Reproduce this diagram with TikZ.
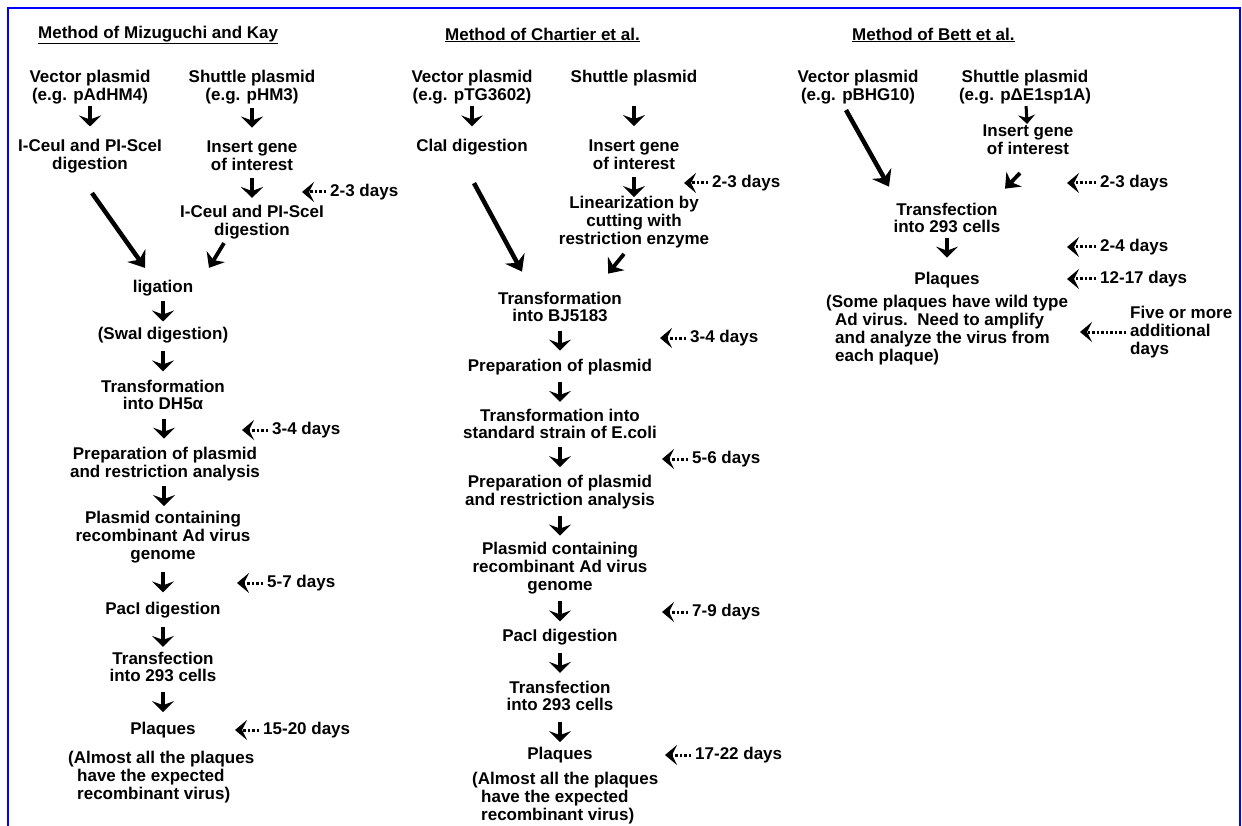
\documentclass[tikz,border=0pt]{standalone}
\usepackage{fontspec}
\setmainfont{Liberation Sans}
\usetikzlibrary{arrows.meta,calc,positioning}

\begin{document}
\begin{tikzpicture}[x=1pt,y=-1pt,
	txt/.style={align=center,inner sep=0pt,font=\bfseries\fontsize{17}{17.8}\selectfont},
	down/.style={-{Stealth[length=11pt,width=22pt,inset=4pt]},line width=3.5pt,
		to path={($(\tikztostart.south)!0.5!(\tikztotarget.north)+(0,#1-10)$) -- ++(0,20)}},
	down/.default=0,
	small/.style={-{Stealth[length=9pt,width=17pt,inset=3pt]},line width=3pt,shorten <=2pt,shorten >=1pt},
	slant/.style={-{Stealth[length=15pt,width=22pt,inset=5pt]},line width=4.5pt},
	nudge/.style={-{Stealth[length=13pt,width=21pt,inset=4pt]},line width=3.8pt},
	days/.style={-{Stealth[length=12pt,width=20pt,inset=5pt]},line width=3pt,dash pattern=on 2.5pt off 2pt,shorten <=4pt}]
	\useasboundingbox (0,0) rectangle (1242,826);
	\draw[blue,line width=2.5pt] (8,826) -- (8,8) -- (1240,8) -- (1240,826);

	% Mizuguchi and Kay
	\node[txt,anchor=west] (mk) at (38,35) {\underline{Method of Mizuguchi and Kay}};
	\node[txt] (vp1) at (90,87) {Vector plasmid\\(e.g. pAdHM4)};
	\node[txt] (dg1) at (90,156) {I-CeuI and PI-SceI\\digestion};
	\node[txt] (sp1) at (252,87) {Shuttle plasmid\\(e.g. pHM3)};
	\node[txt] (ig1) at (252,156) {Insert gene\\of interest};
	\node[txt] (cd1) at (252,222) {I-CeuI and PI-SceI\\digestion};
	\node[txt] (lig1) at (163,288) {ligation};
	\node[txt] (swa1) at (163,335) {(SwaI digestion)};
	\node[txt] (tf1) at (163,395) {Transformation\\into DH5α};
	\node[txt] (pr1) at (165,464) {Preparation of plasmid\\and restriction analysis};
	\node[txt] (pc1) at (163,537) {Plasmid containing\\recombinant Ad virus\\genome};
	\node[txt] (pac1) at (163,610) {PacI digestion};
	\node[txt] (tr1) at (163,667) {Transfection\\into 293 cells};
	\node[txt] (pl1) at (163,730) {Plaques};
	\node[txt,anchor=west,align=left] (nt1) at (68,777) {(Almost all the plaques\\\hspace*{9pt}have the expected\\\hspace*{9pt}recombinant virus)};
	\path[down]
	(vp1) edge[down=-5] (dg1)
	(sp1) edge[down=-5] (ig1)
	(ig1) edge (cd1)
	(lig1) edge (swa1)
	(swa1) edge (tf1)
	(tf1) edge (pr1)
	(pr1) edge (pc1)
	(pc1) edge (pac1)
	(pac1) edge[down=2] (tr1)
	(tr1) edge (pl1);
	\draw[slant] ($(dg1.south)+(2,20)$) -- ($(lig1.north)+(-18,-12)$);
	\draw[nudge] ($(cd1.south)+(-28,4)$) -- ($(lig1.north)+(46,-12)$);
	\node[txt,anchor=west] (d1a) at (330,192) {2-3 days};
	\node[txt,anchor=west] (d1b) at (272,430) {3-4 days};
	\node[txt,anchor=west] (d1c) at (267,583) {5-7 days};
	\node[txt,anchor=west] (d1d) at (263,730) {15-20 days};
	\coordinate (t1a) at (302,192);
	\coordinate (t1b) at (242,430);
	\coordinate (t1c) at (237,583);
	\coordinate (t1d) at (235,730);
	\draw[days] (d1a) -- (t1a);
	\draw[days] (d1b) -- (t1b);
	\draw[days] (d1c) -- (t1c);
	\draw[days] (d1d) -- (t1d);

	% Chartier et al.
	\node[txt,anchor=west] (ch) at (445,35) {\underline{Method of Chartier et al.}};
	\node[txt] (vp2) at (472,87) {Vector plasmid\\(e.g. pTG3602)};
	\node[txt] (cla2) at (472,147) {ClaI digestion};
	\node[txt] (sp2) at (634,78) {Shuttle plasmid};
	\node[txt] (ig2) at (634,155) {Insert gene\\of interest};
	\node[txt] (lin2) at (634,222) {Linearization by\\cutting with\\restriction enzyme};
	\node[txt] (tf2) at (560,307) {Transformation\\into BJ5183};
	\node[txt] (pp2) at (560,367) {Preparation of plasmid};
	\node[txt] (ts2) at (560,424) {Transformation into\\standard strain of E.coli};
	\node[txt] (pr2) at (560,492) {Preparation of plasmid\\and restriction analysis};
	\node[txt] (pc2) at (560,568) {Plasmid containing\\recombinant Ad virus\\genome};
	\node[txt] (pac2) at (560,637) {PacI digestion};
	\node[txt] (tr2) at (560,696) {Transfection\\into 293 cells};
	\node[txt] (pl2) at (560,755) {Plaques};
	\node[txt,anchor=west,align=left] (nt2) at (472,798) {(Almost all the plaques\\\hspace*{9pt}have the expected\\\hspace*{9pt}recombinant virus)};
	\path[down]
	(vp2) edge[down=-5] (cla2)
	(sp2) edge[down=3] (ig2)
	(ig2) edge[down=4] (lin2)
	(tf2) edge (pp2)
	(pp2) edge (ts2)
	(ts2) edge (pr2)
	(pr2) edge (pc2)
	(pc2) edge (pac2)
	(pac2) edge (tr2)
	(tr2) edge[down=3] (pl2);
	\draw[slant] ($(cla2.south)+(2,28)$) -- ($(tf2.north)+(-38,-20)$);
	\draw[nudge] ($(lin2.south)+(-10,6)$) -- ($(tf2.north)+(48,-18)$);
	\node[txt,anchor=west] (d2a) at (712,183) {2-3 days};
	\node[txt,anchor=west] (d2b) at (690,338) {3-4 days};
	\node[txt,anchor=west] (d2c) at (692,459) {5-6 days};
	\node[txt,anchor=west] (d2d) at (692,612) {7-9 days};
	\node[txt,anchor=west] (d2e) at (695,755) {17-22 days};
	\coordinate (t2a) at (684,183);
	\coordinate (t2b) at (660,338);
	\coordinate (t2c) at (662,459);
	\coordinate (t2d) at (662,612);
	\coordinate (t2e) at (665,755);
	\draw[days] (d2a) -- (t2a);
	\draw[days] (d2b) -- (t2b);
	\draw[days] (d2c) -- (t2c);
	\draw[days] (d2d) -- (t2d);
	\draw[days] (d2e) -- (t2e);

	% Bett et al.
	\node[txt,anchor=west] (bt) at (852,35) {\underline{Method of Bett et al.}};
	\node[txt] (vp3) at (858,87) {Vector plasmid\\(e.g. pBHG10)};
	\node[txt] (sp3) at (1025,87) {Shuttle plasmid\\(e.g. pΔE1sp1A)};
	\node[txt] (ig3) at (1028,140) {Insert gene\\of interest};
	\node[txt] (tf3) at (947,218) {Transfection\\into 293 cells};
	\node[txt] (pl3) at (947,280) {Plaques};
	\node[txt,anchor=west,align=left] (nt3) at (826,330) {(Some plaques have wild type\\\hspace*{9pt}Ad virus.\ \ Need to amplify\\\hspace*{9pt}and analyze the virus from\\\hspace*{9pt}each plaque)};
	\node[txt,anchor=west,align=left] (fm3) at (1130,332) {Five or more\\additional\\days};
	\path (sp3) edge[small] (ig3)
	(tf3) edge[down=-5] (pl3);
	\draw[slant] ($(vp3.south)+(-12,6)$) -- ($(tf3.north)+(-58,-16)$);
	\draw[nudge] ($(ig3.south)+(-8,18)$) -- ($(tf3.north)+(58,-14)$);
	\node[txt,anchor=west] (d3a) at (1100,183) {2-3 days};
	\node[txt,anchor=west] (d3b) at (1100,247) {2-4 days};
	\node[txt,anchor=west] (d3c) at (1100,279) {12-17 days};
	\coordinate (t3a) at (1067,183);
	\coordinate (t3b) at (1067,247);
	\coordinate (t3c) at (1067,279);
	\coordinate (t3d) at (1080,332);
	\draw[days] (d3a) -- (t3a);
	\draw[days] (d3b) -- (t3b);
	\draw[days] (d3c) -- (t3c);
	\draw[days] (fm3) -- (t3d);
\end{tikzpicture}
\end{document}
